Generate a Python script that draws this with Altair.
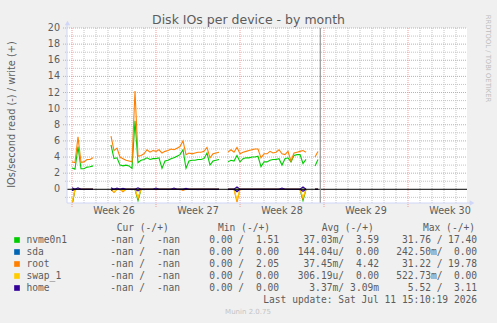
import altair as alt
import pandas as pd

# ------------------------------------------------------------------ data
sample_step_days = 0.25            # one sample every 6 hours
weeks = [26, 27, 28, 29, 30]
week_start_day = [0, 7, 14, 21, 28]
now_day = 20.69
y_labels = [0, 2, 4, 6, 8, 10, 12, 14, 16, 18, 20]
y_major = [2, 4, 6, 8, 10, 12, 14, 16, 18, 20]
y_minor = [-1, 1, 3, 5, 7, 9, 11, 13, 15, 17, 19]
day_lines = [d for d in range(1, 33) if d % 7 != 0]

N = None
nvme0n1_write = [
    2.65, 2.5, 5.3, 2.55, 2.55, 2.75, 2.8, 2.9,
    N, N, N, N, N,
    5.5, 3.8, 3.9, 3.0, 2.9, 3.0, 2.9, 2.6, 8.5, 3.3, 3.6, 3.7, 3.9, 3.7, 3.8,
    3.8, 3.9, 2.6, 3.5, 3.6, 3.8, 3.9, 4.1, 4.3, 4.9, 2.6, 3.5, 3.6, 3.6, 3.7,
    3.7, 3.8, 4.5, 3.0, 3.5, 3.6, 3.7,
    N, N,
    3.4, 3.6, 3.5, 4.2, 3.4, 3.8, 3.9, 3.9, 4.0, 4.0, 4.1, 2.8, 3.4, 3.4, 3.6,
    3.7, 3.7, 3.8, 3.0, 3.8, 3.9, 3.4, 4.2, 4.3, 4.3, 3.2, 3.7,
    N, N,
    2.9, 3.7,
]
root_write = [
    3.4, 3.3, 6.5, 3.35, 3.4, 3.7, 3.7, 3.9,
    N, N, N, N, N,
    6.6, 4.8, 5.1, 4.0, 3.8, 3.6, 3.5, 3.4, 12.2, 4.1, 4.2, 4.4, 4.9, 4.6, 4.8,
    4.7, 4.9, 4.5, 4.7, 4.8, 5.0, 4.9, 5.1, 5.3, 6.0, 4.3, 4.5, 4.4, 4.5, 4.6,
    4.6, 4.7, 5.2, 3.9, 4.4, 4.5, 4.6,
    N, N,
    4.6, 4.9, 4.6, 5.2, 4.4, 4.6, 4.7, 4.8, 4.9, 5.0, 5.0, 3.9, 4.4, 4.4, 4.7,
    4.5, 4.6, 4.9, 4.4, 4.3, 4.7, 3.5, 4.5, 4.6, 4.7, 4.8, 4.6,
    N, N,
    4.0, 4.7,
]
# reads (plotted downward), only the visible spikes; elsewhere 0
nvme0n1_read = {0: 2.0, 22: 1.4, 77: 1.4}
sda_write = {}
sda_read = {0: 0.15, 55: 0.15}
root_read = {0: 2.0, 14: 0.4, 17: 0.3, 22: 1.2, 37: 0.15, 55: 1.6, 77: 1.2}
swap_1_write = {}
swap_1_read = {0: 1.6, 14: 0.3, 17: 0.2, 22: 1.0, 55: 1.3, 77: 1.0}
home_write = {0: 0.18, 2: 0.18, 13: 0.18, 15: 0.15, 17: 0.12, 22: 0.18, 28: 0.15,
              34: 0.15, 38: 0.12, 55: 0.3, 70: 0.15, 77: 0.3}
home_read = {0: 0.15, 13: 0.12, 22: 0.2, 55: 0.3, 77: 0.25}

devices = ["nvme0n1", "sda", "root", "swap_1", "home"]
colors = ["#00CC00", "#0066B3", "#FF8000", "#FFCC00", "#330099"]
legend_cur_l = ["-nan /"] * 5
legend_cur_r = ["-nan"] * 5
legend_min_l = ["0.00 /"] * 5
legend_min_r = ["1.51", "0.00", "2.05", "0.00", "0.00"]
legend_avg_l = ["37.03m/", "144.04u/", "37.45m/", "306.19u/", "3.37m/"]
legend_avg_r = ["3.59", "0.00", "4.42", "0.00", "3.09m"]
legend_max_l = ["31.76 /", "242.50m/", "31.22 /", "522.73m/", "5.52 /"]
legend_max_r = ["17.40", "0.00", "19.78", "0.00", "3.11"]
last_update = "Last update: Sat Jul 11 15:10:19 2026"

# ------------------------------------------------------------------ build table
mask = nvme0n1_write


def from_spikes(sp):
    return [None if m is None else sp.get(k, 0.0) for k, m in enumerate(mask)]


series = {
    "nvme0n1": (nvme0n1_write, from_spikes(nvme0n1_read)),
    "sda": (from_spikes(sda_write), from_spikes(sda_read)),
    "root": (root_write, from_spikes(root_read)),
    "swap_1": (from_spikes(swap_1_write), from_spikes(swap_1_read)),
    "home": (from_spikes(home_write), from_spikes(home_read)),
}

rows = []
for dev in devices:
    for direction, vals in zip(("write", "read"), series[dev]):
        seg = 0
        prev_none = False
        for k, v in enumerate(vals):
            if v is None:
                prev_none = True
                continue
            if prev_none:
                seg += 1
                prev_none = False
            rows.append({"t": k * sample_step_days,
                         "v": v if direction == "write" else -v,
                         "key": dev + "_" + direction, "seg": seg})
df = pd.DataFrame(rows)

# ------------------------------------------------------------------ layout
L, T = 67, 28          # plot origin in page pixels
W, H = 400, 175
FONT = "DejaVu Sans"
MONO = "DejaVu Sans Mono"
TXT = "#5c5c5c"
AXIS = "#CFD6F8"
GRID = "#C4C4C4"
MGRID = "#EE9A9A"

xs = alt.Scale(domain=[-5 / 12, 395 / 12], nice=False, zero=False)
ys = alt.Scale(domain=[-1.7, 20], nice=False, zero=False)
X = alt.X("t:Q", scale=xs, axis=None)
Y = alt.Y("v:Q", scale=ys, axis=None)
dummy = pd.DataFrame({"d": [0]})

layers = []
# grid
layers.append(alt.Chart(pd.DataFrame({"t": day_lines})).mark_rule(
    color=GRID, strokeDash=[1, 1], strokeWidth=1).encode(
    x=X, y=alt.value(0), y2=alt.value(H)))
layers.append(alt.Chart(pd.DataFrame({"v": y_minor})).mark_rule(
    color=GRID, strokeDash=[1, 1], strokeWidth=1).encode(
    y=Y, x=alt.value(-2), x2=alt.value(W)))
layers.append(alt.Chart(pd.DataFrame({"t": week_start_day})).mark_rule(
    color=MGRID, strokeDash=[1, 1], strokeWidth=1).encode(
    x=X, y=alt.value(0), y2=alt.value(H + 4)))
layers.append(alt.Chart(pd.DataFrame({"v": y_major})).mark_rule(
    color=MGRID, strokeDash=[1, 1], strokeWidth=1).encode(
    y=Y, x=alt.value(-4), x2=alt.value(W)))

# y tick labels
layers.append(alt.Chart(pd.DataFrame({"v": y_labels})).mark_text(
    font=FONT, fontSize=9.6, color=TXT, align="right", baseline="middle").encode(
    y=Y, x=alt.value(-7), text="v:Q"))

# data lines
for dev, col in zip(devices, colors):
    for direction in ("write", "read"):
        key = dev + "_" + direction
        layers.append(alt.Chart(df[df["key"] == key]).mark_line(
            clip=True, strokeWidth=1.1, color=col).encode(
            x=X, y=Y, detail="seg:N"))

# zero line and "now" line
layers.append(alt.Chart(pd.DataFrame({"v": [0]})).mark_rule(
    color="#000000", strokeWidth=1).encode(y=Y, x=alt.value(0), x2=alt.value(W)))
layers.append(alt.Chart(pd.DataFrame({"t": [now_day]})).mark_rule(
    color="#959595", strokeWidth=1.2).encode(x=X, y=alt.value(0), y2=alt.value(H)))

# axis lines and arrows
layers.append(alt.Chart(dummy).mark_rule(color=AXIS, strokeWidth=1).encode(
    x=alt.value(0), y=alt.value(-4), y2=alt.value(H)))
layers.append(alt.Chart(dummy).mark_rule(color=AXIS, strokeWidth=1).encode(
    x=alt.value(0), x2=alt.value(W + 4), y=alt.value(H)))
layers.append(alt.Chart(dummy).mark_point(
    shape="triangle-up", filled=True, size=28, color=AXIS, opacity=1).encode(
    x=alt.value(0.5), y=alt.value(-5)))
layers.append(alt.Chart(dummy).mark_point(
    shape="triangle-right", filled=True, size=28, color=AXIS, opacity=1).encode(
    x=alt.value(W + 5), y=alt.value(H)))

# week labels
layers.append(alt.Chart(pd.DataFrame({
    "t": [s + 3.5 for s in week_start_day],
    "label": ["Week %d" % w for w in weeks]})).mark_text(
    font=FONT, fontSize=9.6, color=TXT, align="center", baseline="middle").encode(
    x=X, y=alt.value(211 - T), text="label:N"))


def txt(s, x, y, align="left", size=9.6, font=FONT, color=TXT, angle=0,
        baseline="middle"):
    kw = dict(text=s, font=font, fontSize=size, color=color, align=align,
              baseline=baseline)
    if angle:
        kw["angle"] = angle
    return alt.Chart(dummy).mark_text(**kw).encode(
        x=alt.value(x - L), y=alt.value(y - T))


layers.append(txt("Disk IOs per device - by month", 248.5, 23.8,
                  align="center", size=12.5, baseline="alphabetic"))
layers.append(txt("IOs/second read (-) / write (+)", 11.5, 114.5,
                  align="center", size=9.8, angle=270))
layers.append(txt("RRDTOOL / TOBI OETIKER", 487.5, 58.5, align="center",
                  size=6.8, color="#bdbdbd", angle=90))
layers.append(txt("Munin 2.0.75", 248, 311.7, align="center", size=7,
                  color="#c4c4c4"))

# legend
MS = 9.6
header_y = 227.5
for label, x0 in (("Cur (-/+)", 116.7), ("Min (-/+)", 218),
                  ("Avg (-/+)", 321.7), ("Max (-/+)", 423)):
    layers.append(txt(label, x0, header_y, font=MONO, size=MS))

row_y = [240, 252, 264, 276, 288]
for i, (dev, col) in enumerate(zip(devices, colors)):
    y = row_y[i]
    layers.append(alt.Chart(dummy).mark_square(size=32, color=col, opacity=1).encode(
        x=alt.value(17 - L), y=alt.value(y - T)))
    layers.append(txt(dev, 26.5, y, font=MONO, size=MS))
    layers.append(txt(legend_cur_l[i], 145, y, align="right", font=MONO, size=MS))
    layers.append(txt(legend_cur_r[i], 180, y, align="right", font=MONO, size=MS))
    layers.append(txt(legend_min_l[i], 244, y, align="right", font=MONO, size=MS))
    layers.append(txt(legend_min_r[i], 279, y, align="right", font=MONO, size=MS))
    layers.append(txt(legend_avg_l[i], 344, y, align="right", font=MONO, size=MS))
    layers.append(txt(legend_avg_r[i], 379, y, align="right", font=MONO, size=MS))
    layers.append(txt(legend_max_l[i], 442.5, y, align="right", font=MONO, size=MS))
    layers.append(txt(legend_max_r[i], 477, y, align="right", font=MONO, size=MS))

layers.append(txt(last_update, 477, 300, align="right", font=MONO, size=MS))

chart = alt.layer(*layers).properties(
    width=W, height=H, autosize="none",
    padding={"left": L, "top": T, "right": 497 - L - W, "bottom": 323 - T - H},
    background="#f0f0f0",
).configure_view(fill="white", strokeWidth=0)

chart.save("out.html", embed_options={"renderer": "svg", "actions": False})
